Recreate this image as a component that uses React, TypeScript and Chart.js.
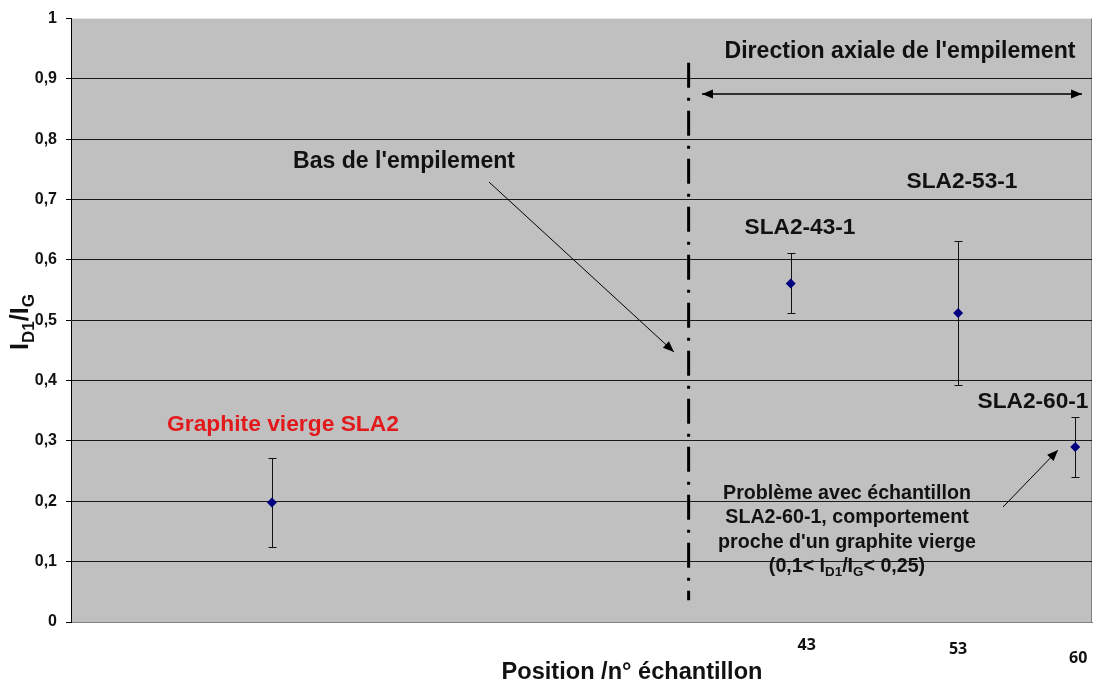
import React, { useEffect, useRef } from "react";
import { Chart, registerables } from "chart.js";

Chart.register(...registerables);

// ---- data ----
const samplePositions = [12, 43, 53, 60];
const ratioValues = [0.198, 0.561, 0.512, 0.29];
const errorLow = [0.125, 0.512, 0.393, 0.241];
const errorHigh = [0.272, 0.612, 0.632, 0.34];
const xTickValues = [43, 53, 60];
const xTickLabels = ["43", "53", "60"];
const yTickValues = [0, 0.1, 0.2, 0.3, 0.4, 0.5, 0.6, 0.7, 0.8, 0.9, 1];

// ---- styles / placement (pixel offsets & sizes) ----
const xTickDx = [16, 0, 3];
const xTickY = [645, 649, 658];
const ARIAL = "'Liberation Sans', Arial, sans-serif";
const TXT = "#111111";

type Seg = { t: string; sub?: boolean };

function fitFont(ctx: CanvasRenderingContext2D, text: string, target: number, family: string) {
  ctx.font = `bold 20px ${family}`;
  const w = ctx.measureText(text).width;
  return (20 * target) / w;
}

function drawRich(ctx: CanvasRenderingContext2D, segs: Seg[], cx: number, baseY: number, size: number, subSize: number) {
  let total = 0;
  const widths = segs.map((s) => {
    ctx.font = `bold ${s.sub ? subSize : size}px ${ARIAL}`;
    const w = ctx.measureText(s.t).width;
    total += w;
    return w;
  });
  let x = cx - total / 2;
  ctx.textAlign = "left";
  ctx.textBaseline = "alphabetic";
  segs.forEach((s, i) => {
    ctx.font = `bold ${s.sub ? subSize : size}px ${ARIAL}`;
    ctx.fillText(s.t, x, s.sub ? baseY + size * 0.22 : baseY);
    x += widths[i];
  });
}

function arrowHead(ctx: CanvasRenderingContext2D, x1: number, y1: number, x2: number, y2: number, len: number, half: number) {
  const a = Math.atan2(y2 - y1, x2 - x1);
  ctx.beginPath();
  ctx.moveTo(x2, y2);
  ctx.lineTo(x2 - len * Math.cos(a) + half * Math.sin(a), y2 - len * Math.sin(a) - half * Math.cos(a));
  ctx.lineTo(x2 - len * Math.cos(a) - half * Math.sin(a), y2 - len * Math.sin(a) + half * Math.cos(a));
  ctx.closePath();
  ctx.fill();
}

function arrow(ctx: CanvasRenderingContext2D, x1: number, y1: number, x2: number, y2: number, both = false, lw = 1.2) {
  ctx.save();
  ctx.strokeStyle = "#000";
  ctx.fillStyle = "#000";
  ctx.lineWidth = lw;
  ctx.beginPath();
  ctx.moveTo(x1, y1);
  ctx.lineTo(x2, y2);
  ctx.stroke();
  arrowHead(ctx, x1, y1, x2, y2, 11, 4.5);
  if (both) arrowHead(ctx, x2, y2, x1, y1, 11, 4.5);
  ctx.restore();
}

const backgroundPlugin = {
  id: "plotBg",
  beforeDraw(chart: any) {
    const { ctx, chartArea: a } = chart;
    ctx.save();
    ctx.fillStyle = "#c0c0c0";
    ctx.fillRect(a.left, a.top, a.right - a.left, a.bottom - a.top);
    ctx.strokeStyle = "#808080";
    ctx.lineWidth = 1;
    ctx.beginPath();
    ctx.moveTo(a.right - 0.5, a.top);
    ctx.lineTo(a.right - 0.5, a.bottom);
    ctx.stroke();
    ctx.restore();
  },
};

const errorBarPlugin = {
  id: "errorBars",
  beforeDatasetsDraw(chart: any) {
    const { ctx, scales } = chart;
    const xs = scales.x;
    const ys = scales.y;
    ctx.save();
    ctx.strokeStyle = "#111";
    ctx.lineWidth = 1;
    samplePositions.forEach((p, i) => {
      const x = Math.round(xs.getPixelForValue(p)) + 0.5;
      const yl = Math.round(ys.getPixelForValue(errorLow[i])) + 0.5;
      const yh = Math.round(ys.getPixelForValue(errorHigh[i])) + 0.5;
      ctx.beginPath();
      ctx.moveTo(x, yl);
      ctx.lineTo(x, yh);
      ctx.moveTo(x - 4, yl);
      ctx.lineTo(x + 4, yl);
      ctx.moveTo(x - 4, yh);
      ctx.lineTo(x + 4, yh);
      ctx.stroke();
    });
    ctx.restore();
  },
};

const annotationPlugin = {
  id: "annotations",
  afterDraw(chart: any) {
    const { ctx, scales } = chart;
    const X = (v: number) => scales.x.getPixelForValue(v);
    const Y = (v: number) => scales.y.getPixelForValue(v);
    ctx.save();

    // x tick labels
    ctx.fillStyle = TXT;
    ctx.textAlign = "center";
    ctx.textBaseline = "middle";
    ctx.font = `bold 16px 'Open Sans', Lato, sans-serif`;
    xTickValues.forEach((v, i) => {
      ctx.fillText(xTickLabels[i], X(v) + xTickDx[i], xTickY[i]);
    });

    // x axis title
    ctx.textBaseline = "alphabetic";
    let s = fitFont(ctx, "Position /n° échantillon", 261, ARIAL);
    ctx.font = `bold ${s}px ${ARIAL}`;
    ctx.fillText("Position /n° échantillon", 632, 679);

    // y axis title (rotated)
    ctx.save();
    ctx.translate(28, 322);
    ctx.rotate(-Math.PI / 2);
    drawRich(ctx, [{ t: "I" }, { t: "D1", sub: true }, { t: "/I" }, { t: "G", sub: true }], 0, 0, 25, 17);
    ctx.restore();

    // dash-dot vertical line
    ctx.save();
    ctx.strokeStyle = "#000";
    ctx.lineWidth = 3;
    ctx.setLineDash([25, 10, 3, 10]);
    ctx.beginPath();
    ctx.moveTo(X(36.9), Y(0.927));
    ctx.lineTo(X(36.9), Y(0.036));
    ctx.stroke();
    ctx.restore();

    // direction text + double arrow
    ctx.textAlign = "center";
    s = fitFont(ctx, "Direction axiale de l'empilement", 351, ARIAL);
    ctx.font = `bold ${s}px ${ARIAL}`;
    ctx.fillText("Direction axiale de l'empilement", 900, 58);
    arrow(ctx, 702, 94, 1082, 94, true, 1.5);

    // Bas de l'empilement
    s = fitFont(ctx, "Bas de l'empilement", 222, ARIAL);
    ctx.font = `bold ${s}px ${ARIAL}`;
    ctx.fillText("Bas de l'empilement", 404, 168);
    arrow(ctx, 489, 182, 674, 352, false, 1);

    // sample labels
    s = fitFont(ctx, "SLA2-53-1", 111, ARIAL);
    ctx.font = `bold ${s}px ${ARIAL}`;
    ctx.fillText("SLA2-53-1", 962, 188);
    ctx.fillText("SLA2-43-1", 800, 234);
    ctx.fillText("SLA2-60-1", 1033, 408);

    // graphite vierge
    ctx.fillStyle = "#e31a1c";
    s = fitFont(ctx, "Graphite vierge SLA2", 232, ARIAL);
    ctx.font = `bold ${s}px ${ARIAL}`;
    ctx.fillText("Graphite vierge SLA2", 283, 431);

    // problem note
    ctx.fillStyle = TXT;
    s = fitFont(ctx, "Problème avec échantillon", 248, ARIAL);
    ctx.font = `bold ${s}px ${ARIAL}`;
    ctx.fillText("Problème avec échantillon", 847, 499);
    ctx.fillText("SLA2-60-1, comportement", 847, 523);
    ctx.fillText("proche d'un graphite vierge", 847, 548);
    drawRich(
      ctx,
      [{ t: "(0,1< I" }, { t: "D1", sub: true }, { t: "/I" }, { t: "G", sub: true }, { t: "< 0,25)" }],
      847,
      572,
      s,
      s * 0.68
    );
    arrow(ctx, 1003, 507, 1058, 450, false, 1);

    ctx.restore();
  },
};

export default function App() {
  const ref = useRef<HTMLCanvasElement | null>(null);
  useEffect(() => {
    if (!ref.current) return;
    const chart = new Chart(ref.current, {
      type: "scatter",
      data: {
        datasets: [
          {
            data: samplePositions.map((p, i) => ({ x: p, y: ratioValues[i] })),
            pointStyle: "rectRot",
            pointRadius: 5,
            backgroundColor: "#000080",
            borderColor: "#000080",
            borderWidth: 0,
          },
        ],
      },
      options: {
        animation: false,
        responsive: false,
        devicePixelRatio: 1,
        layout: { autoPadding: false, padding: { top: 16, right: 2, left: 0, bottom: 0 } },
        plugins: { legend: { display: false }, tooltip: { enabled: false } },
        scales: {
          x: {
            type: "linear",
            min: 0,
            max: 61,
            grid: { display: false, drawTicks: false },
            border: { display: true, color: "#808080", width: 1 },
            ticks: { display: false },
            afterFit: (sc: any) => {
              sc.height = 64;
            },
          },
          y: {
            min: 0,
            max: 1,
            afterBuildTicks: (sc: any) => {
              sc.ticks = yTickValues.map((v) => ({ value: v }));
            },
            ticks: {
              padding: 9,
              color: TXT,
              font: { family: ARIAL, size: 16, weight: "bold" },
              callback: (v: any) => {
                const n = Number(v);
                if (n === 0 || n === 1) return String(n);
                return n.toFixed(1).replace(".", ",");
              },
            },
            grid: {
              color: (c: any) => {
                const v = c.tick ? c.tick.value : 0;
                return v <= 0.001 || v >= 0.999 ? "rgba(0,0,0,0)" : "#1a1a1a";
              },
              tickColor: "#000",
              tickLength: 5,
              lineWidth: 1,
            },
            border: { display: true, color: "#000", width: 1 },
            afterFit: (sc: any) => {
              sc.width = 71;
            },
          },
        },
      },
      plugins: [backgroundPlugin, errorBarPlugin, annotationPlugin],
    } as any);
    return () => chart.destroy();
  }, []);
  return (
    <div style={{ position: "absolute", left: 0, top: 0, width: 1094, height: 686, background: "#fff" }}>
      <canvas ref={ref} width={1094} height={686} style={{ display: "block" }} />
    </div>
  );
}
